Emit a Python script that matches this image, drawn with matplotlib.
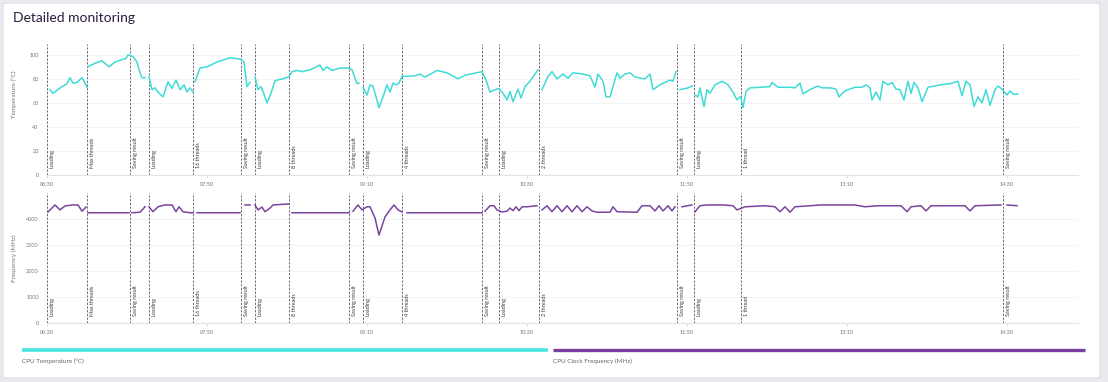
import numpy as np
import matplotlib
matplotlib.use("Agg")
import matplotlib.pyplot as plt
from matplotlib.lines import Line2D
from matplotlib.patches import FancyBboxPatch
from matplotlib.transforms import blended_transform_factory

plt.rcParams['font.family'] = ['Lato', 'DejaVu Sans']

nan = np.nan

# minutes since start of the run, NaN = gap in the recording
temp_minutes = [1.5, 3, 5.5, 7.5, 10, 11.5, 13, 15, 17.5, 19.5, 20, 20.2,
                20.5, 24, 27.5, 31, 34, 37.5, 39.5, 40.5, 41.5, 43, 45, 46.5, 47.5, 49, 50,
                51, 52.5, 54, 55.5, 58, 60.5, 62.5, 64.5, 66.5, 68.5, 70, 71.5, 73, 73.5,
                74, 76.5, 80, 85, 91.5, 96.5, 98.5, 100, 101.5, 103,
                104, 105.5, 107, 108, 110, 112, 114, 119, 121, 122.5, 125, 127.5, 131.5,
                136.5, 138, 140, 142.5, 146.5, 151, 152.5, 155, 156, 157,
                158, 160, 161.5, 163, 166, 168, 170, 171.5, 173, 174.5, 176, 177.5, 184,
                186.5, 189, 195, 200, 205.5, 209, 217.5, 219.5, 221.5, 224, 226, 228, 230,
                231.5, 233, 235.5, 237, 239, 241.5, 245.5, 246.5,
                247.5, 250.5, 252.5, 255, 258, 260.5, 263, 268, 271.5, 274, 275.5, 278,
                279.5, 281.5, 283.5, 285, 286.5, 289, 291.5, 294, 299, 301.5, 303, 306.5,
                309, 311.5, 313, 314.5, 315.5,
                316.5, 320.5, 322.5, 323.2,
                324, 325.5, 326.5, 328.5, 330, 331.5, 334, 337.5, 340.5, 343, 345, 346.5,
                347, 348, 349.5, 351.5, 356.5, 361.5, 362.5, 365.5, 371.5, 374, 376.5, 378,
                381.5, 384, 385.5, 387.5, 391.5, 394.5, 396, 399, 404, 407.5, 409.5, 411.5,
                412.5, 414.5, 416.5, 418, 420.5, 422.5, 424.5, 426.5, 428.5, 430.5, 432,
                433.5, 435.5, 437.5, 440.5, 446.5, 451.5, 455.5, 457.5, 459.5, 461.5, 463.5,
                465.5, 467.5, 469.5, 471.5, 474, 475.5, 477.5, 480, 481.5, 483.5, 485.5]
temp_celsius = [71, 68, 71, 73.5, 76, 81, 76.5, 77, 81, 75, 73, nan,
                90, 93, 95, 90, 94, 96, 97, 100, 99.5, 98.5, 94, 85, 81, 81, nan,
                82, 71, 72.5, 69, 65, 77.5, 72, 79, 71, 75, 69, 72.5, 69, nan,
                77.5, 89, 90, 94, 97.5, 96.5, 94, 73.5, 77, nan,
                81.5, 71, 73.5, 69.5, 60, 68, 78.5, 80.5, 82, 86, 87, 86, 87.5,
                91.5, 87, 90, 87, 89, 89, 87.5, 76, 76.5, nan,
                73, 66.5, 75, 74, 56, 65, 75, 69, 76.5, 75, 76.5, 82, 82.5,
                84, 81.5, 87, 85, 80, 83, 86, 79, 69, 71, 72, 68, 62.5,
                69.5, 61, 71.5, 64, 73.5, 78, 87.5, nan,
                71, 82, 86, 80, 84, 80.5, 85, 84, 82.5, 73, 84, 78,
                65, 65, 76.5, 85, 80.5, 84, 85, 81.5, 80, 84, 71, 75,
                77, 79, 78, 86, nan,
                71, 72.5, 74, nan,
                66.5, 65, 72.5, 57, 71, 68, 75, 78, 75, 69, 62.5, 65,
                64, 56, 69.5, 72.5, 73, 73.5, 77, 73, 73, 72.5, 76.5, 67.5,
                71, 73, 74, 72.5, 72.5, 71.5, 65, 70, 73, 73, 75, 72.5,
                62.5, 69, 62.5, 78, 75, 77, 71.5, 71, 62.5, 78, 68,
                77, 72.5, 61, 73, 75, 76, 78, 66, 78, 75, 57,
                65, 60, 71, 58, 71, 74, 71.5, 66.5, 70, 67, 67.5]

freq_minutes = [0.5, 4, 6.5, 9, 12.5, 15.5, 17.5, 19.5, 20,
                20.5, 41, 41.8,
                42.5, 46.5, 49, 50,
                51, 53, 55.5, 59, 62.5, 64.5, 66, 68, 71.5, 73, 74,
                75, 96.5, 98,
                99, 101.5, 103,
                104, 105.5, 107.5, 109, 111.5, 113, 121, 122,
                122.5, 151, 152,
                153, 155.5, 157.5, 160, 161.5, 164, 166, 169, 171.5, 173.5, 175.5, 177.5, 178.5,
                180, 217.5, 218.2,
                219, 221.5, 223.5, 225, 227.5, 230, 231.5, 233, 234.5, 236, 237.5, 240, 245, 246.5,
                247.5, 250, 252.5, 255, 257.5, 260, 262.5, 265, 267.5, 270, 272.5, 275, 281.5,
                283, 285, 295, 297.5, 301.5, 304, 306, 308, 310.5, 312.5, 314, 316,
                317.5, 322.5, 323.2,
                324, 326.5, 330, 338, 343, 345, 349, 359, 364, 366.5, 369, 371.5, 374, 387,
                404, 409, 415.5, 427, 430, 432, 437, 439.5, 442, 459, 461.5, 464, 477, 478.5,
                480, 485]
freq_mhz = [4270, 4540, 4350, 4500, 4540, 4540, 4300, 4460, nan,
            4240, 4240, nan,
            4240, 4260, 4470, nan,
            4470, 4280, 4470, 4540, 4540, 4280, 4470, 4280, 4240, 4240, nan,
            4240, 4240, nan,
            4540, 4540, nan,
            4540, 4350, 4460, 4280, 4420, 4540, 4580, nan,
            4240, 4240, nan,
            4300, 4540, 4350, 4470, 4470, 4040, 3380, 4080, 4350, 4540, 4350, 4270, nan,
            4240, 4240, nan,
            4300, 4510, 4510, 4350, 4270, 4300, 4420, 4320, 4470, 4320, 4470, 4470, 4510, nan,
            4350, 4510, 4280, 4510, 4280, 4510, 4280, 4510, 4280, 4470, 4310, 4260, 4260,
            4470, 4280, 4260, 4510, 4510, 4310, 4510, 4310, 4510, 4310, 4470, nan,
            4470, 4540, nan,
            4280, 4510, 4540, 4540, 4510, 4350, 4470, 4510, 4470, 4280, 4470, 4260, 4470, 4540,
            4540, 4470, 4510, 4510, 4280, 4470, 4510, 4310, 4510, 4510, 4310, 4510, 4540, nan,
            4540, 4510]

event_minutes = [0, 20, 41.5, 51, 73, 97, 104, 121, 151, 158, 177.5, 217.5,
                 226, 246, 315, 323.5, 347, 478]
event_labels = ["Loading", "Max threads", "Saving result", "Loading", "16 threads", "Saving result",
                "Loading", "8 threads", "Saving result", "Loading", "4 threads", "Saving result",
                "Loading", "2 threads", "Saving result", "Loading", "1 thread", "Saving result"]

tick_minutes = [0, 80, 160, 240, 320, 400, 480]
tick_labels = ["06:30", "07:50", "09:10", "10:30", "11:50", "13:10", "14:30"]

temp_ticks = [0, 20, 40, 60, 80, 100]
freq_ticks = [0, 1000, 2000, 3000, 4000]

W, H = 1108, 382
fig = plt.figure(figsize=(W / 100, H / 100), dpi=100, facecolor='#ebebef')
card = FancyBboxPatch((3 / W, 4 / H), 1097 / W, 375 / H, boxstyle="round,pad=0,rounding_size=0.004",
                      transform=fig.transFigure, facecolor='white', edgecolor='#dcdce3', lw=0.8,
                      zorder=-10)
fig.patches.append(card)

fig.text(13 / W, 1 - 18 / H, "Detailed monitoring", fontsize=10, color='#2b1c3f', va='center', ha='left')


def fx(px):
    return px / W


def fy(py):
    return 1 - py / H


ax1 = fig.add_axes([fx(47), fy(175), fx(1078 - 47), (175 - 44) / H])
ax2 = fig.add_axes([fx(47), fy(323), fx(1078 - 47), (323 - 193) / H])

ax1.plot(temp_minutes, temp_celsius, color='#3fdbd6', lw=1.1, zorder=3)
ax2.plot(freq_minutes, freq_mhz, color='#7b449f', lw=1.1, zorder=3)

ax1.set_ylim(0, 109)
ax2.set_ylim(0, 5000)
ax1.set_yticks(temp_ticks)
ax2.set_yticks(freq_ticks)
ax1.set_ylabel("Temperature (°C)", fontsize=4.5, color='#777777')
ax2.set_ylabel("Frequency (MHz)", fontsize=4.5, color='#777777')
ax1.yaxis.set_label_coords(-0.029, 0.62)
ax2.yaxis.set_label_coords(-0.029, 0.5)

for ax in (ax1, ax2):
    ax.patch.set_visible(False)
    ax.set_xlim(0, 515.5)
    ax.set_xticks(tick_minutes)
    ax.set_xticklabels(tick_labels)
    ax.tick_params(axis='x', length=2, width=0.5, color='#cfcfd6', labelsize=4, labelcolor='#777777', pad=3)
    ax.tick_params(axis='y', length=0, labelsize=4, labelcolor='#777777', pad=6)
    for s in ['top', 'right', 'left']:
        ax.spines[s].set_visible(False)
    ax.spines['bottom'].set_color('#e2e2e8')
    ax.spines['bottom'].set_linewidth(0.8)
    ax.grid(axis='y', color='#f3f3f6', lw=0.6)
    ax.set_axisbelow(True)
    tr = blended_transform_factory(ax.transData, ax.transAxes)
    for t, lab in zip(event_minutes, event_labels):
        ax.axvline(t, color='#645e70', lw=0.65, ls=(0, (2.5, 1.6)), zorder=2)
        ax.text(t + 1.3, 0.05, lab, transform=tr, rotation=90, fontsize=4.0, color='#3a3a44',
                ha='left', va='bottom')

# legend drawn as two coloured bars across the bottom
fig.add_artist(Line2D([fx(22), fx(548)], [fy(350), fy(350)], color='#48e6df', lw=2.6,
                      solid_capstyle='butt'))
fig.add_artist(Line2D([fx(553), fx(1085)], [fy(350), fy(350)], color='#7b3fa0', lw=2.4,
                      solid_capstyle='butt'))
fig.text(fx(22), fy(361), "CPU Temperature (°C)", fontsize=4.5, color='#666666', va='center')
fig.text(fx(553), fy(361), "CPU Clock Frequency (MHz)", fontsize=4.5, color='#666666', va='center')

fig.savefig("out.png", dpi=100, facecolor=fig.get_facecolor())
